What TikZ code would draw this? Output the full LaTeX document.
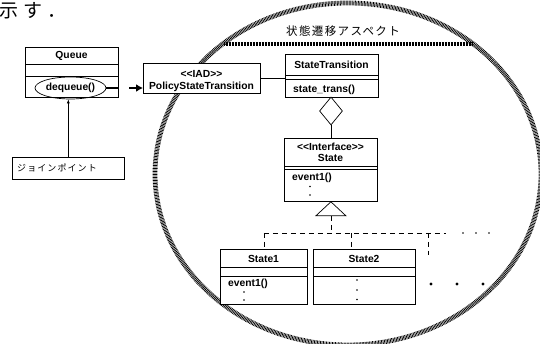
\documentclass[tikz,border=0pt]{standalone}
\usepackage{fontspec}
\setmainfont{Liberation Sans}
\newfontfamily\jwide{Noto Sans CJK JP}[LetterSpace=12]
\newfontfamily\jcap{Noto Sans CJK JP}[LetterSpace=30]
\usetikzlibrary{shapes.geometric,arrows.meta}

\begin{document}
\begin{tikzpicture}[x=1pt,y=-1pt,
		every node/.style={inner sep=0pt},
		box/.style={draw,fill=white,line width=0.8pt,anchor=north west},
		uml/.style={font=\bfseries\fontsize{10.3}{11}\selectfont},
		sep/.style={line width=0.6pt},
		hatch/.style={line width=4.8pt,dash pattern=on 0.75pt off 0.75pt},
		dep/.style={line width=0.7pt,dash pattern=on 5pt off 4pt}]
		\useasboundingbox (0,0) rectangle (540,344);
		% aspect border
		\draw[hatch] (348,174) ellipse [x radius=193,y radius=171];
		\coordinate (chordl) at (224,44);
		\coordinate (chordr) at (472,44);
		\draw[hatch] (chordl) -- (chordr);
		\node[font=\jwide\fontsize{11.5}{12}\selectfont] (aspect) at (343,31) {状態遷移アスペクト};
		\node[font=\jcap\fontsize{19}{19}\selectfont,anchor=west] (caption) at (-1,10.5) {示す．};
		% Queue
		\node[box,minimum width=93,minimum height=50] (queue) at (25,47) {};
		\node[uml] (queuename) at (71.5,56) {Queue};
		\draw[sep] (25,64) -- (118,64);
		\draw[sep] (25,76.5) -- (118,76.5);
		\node[draw,ellipse,line width=0.7pt,minimum width=71,minimum height=22,uml] (deq) at (70.5,88) {dequeue()};
		% join point
		\node[box,line width=0.6pt,minimum width=112,minimum height=22] (jp) at (12,157) {};
		\node[font=\jwide\fontsize{9}{10}\selectfont,anchor=west] (jptext) at (17,168) {ジョインポイント};
		\draw[line width=0.6pt,-{Latex[length=4pt,width=3pt]}] (jp.north) -- (jp.north |- deq.south);
		% PolicyStateTransition
		\node[box,minimum width=117,minimum height=30] (policy) at (143,63) {};
		\node[uml] (iad) at (201.5,74) {<\kern0pt<IAD>\kern0pt>};
		\node[uml] (policyname) at (201.5,86.5) {PolicyStateTransition};
		\draw[line width=1.8pt,dash pattern=on 12pt off 11pt on 30pt,-{Latex[length=7pt,width=8pt]}] (deq.east) -- (deq.east -| policy.west);
		% StateTransition
		\node[box,minimum width=93,minimum height=43] (strans) at (285,54) {};
		\node[uml] (stransname) at (331.5,65) {StateTransition};
		\draw[line width=0.3pt] (285,75) -- (378,75);
		\draw[sep] (285,79) -- (378,79);
		\node[uml,anchor=west] (transop) at (293,89.5) {state\_trans()};
		\draw[line width=0.6pt] (policy.east) -- (policy.east -| strans.west);
		\node[draw,fill=white,diamond,line width=0.7pt,minimum width=23,minimum height=28] (agg) at (331,111) {};
		% State
		\node[box,minimum width=93,minimum height=63] (state) at (284,138) {};
		\draw[line width=0.7pt] (agg.south) -- (agg.south |- state.north);
		\node[uml] (iface) at (330.5,147) {<\kern0pt<Interface>\kern0pt>};
		\node[uml] (statename) at (330.5,157.5) {State};
		\draw[line width=0.3pt] (284,166) -- (377,166);
		\draw[sep] (284,169.5) -- (377,169.5);
		\node[uml,anchor=west] (stateop) at (292,178) {event1()};
		\fill (310,186.5) circle (0.8) (310,195) circle (0.8);
		% generalization
		\draw[line width=0.7pt] (state.south) -- ++(-15,14) -- ++(30,0) -- cycle;
		\coordinate (gen) at ([yshift=-14pt]state.south);
		\coordinate (busy) at (0,233);
		\coordinate (busend) at (446,233);
		\coordinate (s2tap) at (351,249);
		\coordinate (more) at (428,255);
		% State1
		\node[box,minimum width=87,minimum height=55] (state1) at (220,249) {};
		\node[uml] (state1name) at (263.5,258.5) {State1};
		\draw[sep] (220,267) -- (307,267);
		\draw[sep] (220,276) -- (307,276);
		\node[uml,anchor=west] (state1op) at (228,284) {event1()};
		\fill (244,292) circle (0.8) (244,300) circle (0.8);
		% State2
		\node[box,minimum width=102,minimum height=55] (state2) at (313,249) {};
		\node[uml] (state2name) at (364,258.5) {State2};
		\draw[sep] (313,267) -- (415,267);
		\draw[sep] (313,276) -- (415,276);
		\fill (357,280) circle (0.8) (357,290) circle (0.8) (357,299.5) circle (0.8);
		% dependencies
		\draw[dep] (gen) -- (gen |- busy);
		\draw[dep] (state1.north |- busy) -- (busend);
		\draw[dep] (state1.north |- busy) -- (state1.north);
		\draw[dep] (s2tap |- busy) -- (s2tap);
		\draw[dep] (more |- busy) -- (more);
		\foreach \x in {463,476,489}
			\fill (\x,233) circle (0.8);
		\foreach \x in {431,457,483}
			\fill (\x,284) circle (1.6);
	\end{tikzpicture}
\end{document}
